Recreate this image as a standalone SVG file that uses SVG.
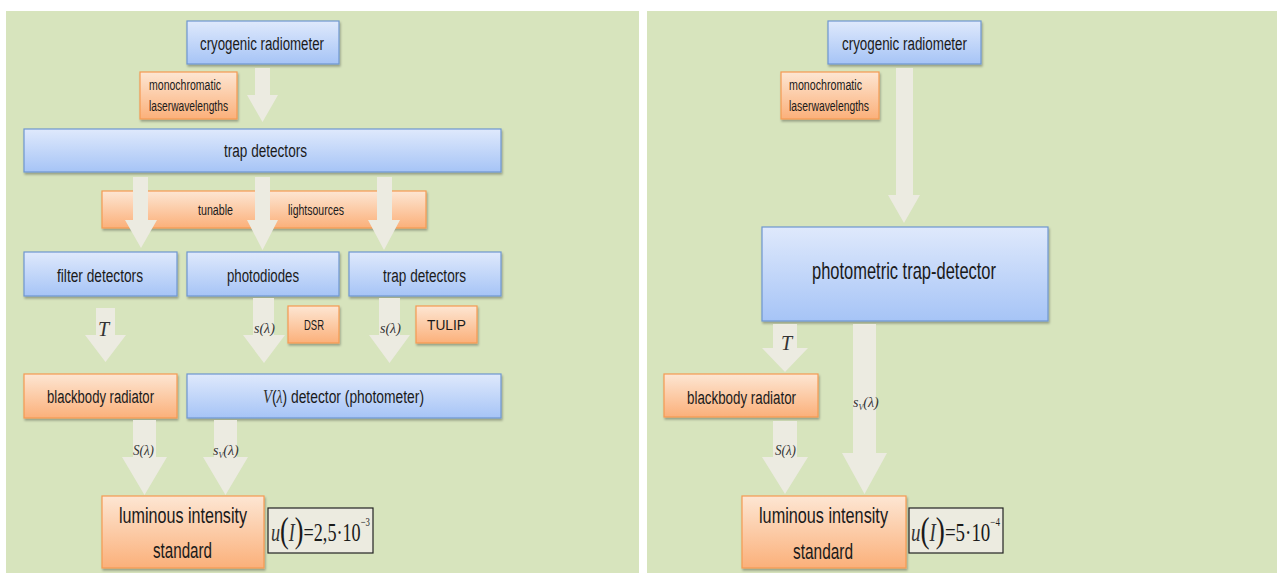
<svg xmlns="http://www.w3.org/2000/svg" width="1277" height="573" viewBox="0 0 1277 573">
<style>
.panel{fill:#d7e4bd}
.blue{fill:url(#gb);stroke:#6e97d0;stroke-width:1.2;filter:url(#sh)}
.orange{fill:url(#go);stroke:#f59a52;stroke-width:1.2;filter:url(#sh)}
.arrow{fill:#ecebe1}
.t{font-family:"Liberation Sans",Arial,sans-serif;fill:#1a1a1a}
.m{font-family:"Liberation Serif","Times New Roman",serif;font-style:italic;fill:#333}
.n{font-family:"Liberation Serif","Times New Roman",serif;fill:#1a1a1a}
.ubox{fill:#ecebe0;stroke:#222;stroke-width:1.2}
</style>
<defs>
<linearGradient id="gb" x1="0" y1="0" x2="0" y2="1"><stop offset="0" stop-color="#dfe9fc"/><stop offset="1" stop-color="#a6c4f6"/></linearGradient>
<linearGradient id="go" x1="0" y1="0" x2="0" y2="1"><stop offset="0" stop-color="#fde6d3"/><stop offset="1" stop-color="#fbb07a"/></linearGradient>
<filter id="sh" x="-10%" y="-10%" width="120%" height="130%"><feDropShadow dx="1" dy="2" stdDeviation="1" flood-color="#000" flood-opacity="0.3"/></filter>
</defs>
<rect width="1277" height="573" fill="#ffffff"/>
<rect class="panel" x="6" y="11" width="633" height="562"/>
<rect class="panel" x="647" y="11" width="630" height="562"/>

<!-- LEFT PANEL -->
<g id="L-cryo"><rect class="blue" x="187" y="21" width="152" height="43"/><text class="t" x="200" y="50" font-size="18" textLength="124" lengthAdjust="spacingAndGlyphs">cryogenic radiometer</text></g>
<g id="L-mono"><rect class="orange" x="140" y="72" width="97" height="47"/><text class="t" x="149" y="90" font-size="14" textLength="72" lengthAdjust="spacingAndGlyphs">monochromatic</text><text class="t" x="149" y="111" font-size="14" textLength="79" lengthAdjust="spacingAndGlyphs">laserwavelengths</text></g>
<g id="L-trap"><rect class="blue" x="24" y="129" width="477" height="43"/><text class="t" x="224" y="157" font-size="18" textLength="83" lengthAdjust="spacingAndGlyphs">trap detectors</text></g>
<g id="L-tunable"><rect class="orange" x="102" y="191" width="324" height="37"/><text class="t" x="198" y="215" font-size="14" textLength="35" lengthAdjust="spacingAndGlyphs">tunable</text><text class="t" x="288" y="215" font-size="14" textLength="56" lengthAdjust="spacingAndGlyphs">lightsources</text></g>
<g id="L-filter"><rect class="blue" x="24" y="252" width="153" height="44"/><text class="t" x="57" y="282" font-size="18" textLength="86" lengthAdjust="spacingAndGlyphs">filter detectors</text></g>
<g id="L-photodiodes"><rect class="blue" x="187" y="252" width="152" height="44"/><text class="t" x="227" y="282" font-size="18" textLength="72" lengthAdjust="spacingAndGlyphs">photodiodes</text></g>
<g id="L-trap2"><rect class="blue" x="349" y="252" width="152" height="44"/><text class="t" x="383" y="282" font-size="18" textLength="83" lengthAdjust="spacingAndGlyphs">trap detectors</text></g>
<g id="L-dsr"><rect class="orange" x="288" y="306" width="51" height="37"/><text class="t" x="304" y="330" font-size="14" textLength="20" lengthAdjust="spacingAndGlyphs">DSR</text></g>
<g id="L-tulip"><rect class="orange" x="416" y="306" width="61" height="37"/><text class="t" x="427" y="330" font-size="14" textLength="39" lengthAdjust="spacingAndGlyphs">TULIP</text></g>
<g id="L-blackbody"><rect class="orange" x="24" y="374" width="153" height="44"/><text class="t" x="47" y="403" font-size="18" textLength="107" lengthAdjust="spacingAndGlyphs">blackbody radiator</text></g>
<g id="L-vlambda"><rect class="blue" x="187" y="374" width="314" height="44"/><text class="t" x="263" y="403" font-size="18" textLength="161" lengthAdjust="spacingAndGlyphs"><tspan class="m" font-size="19" fill="#555">V</tspan>(<tspan class="m">λ</tspan>) detector (photometer)</text></g>
<g id="L-lum"><rect class="orange" x="102" y="496" width="162" height="72"/><text class="t" x="119" y="523" font-size="22" textLength="128" lengthAdjust="spacingAndGlyphs">luminous intensity</text><text class="t" x="153" y="558" font-size="22" textLength="59" lengthAdjust="spacingAndGlyphs">standard</text></g>
<g id="L-u"><rect class="ubox" x="268" y="508" width="105" height="45"/>
<text class="n" x="271" y="541" font-size="25" textLength="99" lengthAdjust="spacingAndGlyphs"><tspan class="m">u</tspan><tspan font-size="36" dy="1">(</tspan><tspan class="m" dy="-1">I</tspan><tspan font-size="36" dy="1">)</tspan><tspan dy="-1">=2,5·10</tspan><tspan font-size="12" dy="-15">−3</tspan></text></g>

<!-- RIGHT PANEL -->
<g id="R-cryo"><rect class="blue" x="828" y="21" width="153" height="43"/><text class="t" x="842" y="50" font-size="18" textLength="125" lengthAdjust="spacingAndGlyphs">cryogenic radiometer</text></g>
<g id="R-mono"><rect class="orange" x="781" y="72" width="98" height="47"/><text class="t" x="789" y="90" font-size="14" textLength="73" lengthAdjust="spacingAndGlyphs">monochromatic</text><text class="t" x="789" y="111" font-size="14" textLength="80" lengthAdjust="spacingAndGlyphs">laserwavelengths</text></g>
<g id="R-photometric"><rect class="blue" x="762" y="227" width="286" height="94"/><text class="t" x="812" y="279" font-size="24" textLength="184" lengthAdjust="spacingAndGlyphs">photometric trap-detector</text></g>
<g id="R-blackbody"><rect class="orange" x="664" y="374" width="154" height="43"/><text class="t" x="687" y="404" font-size="18" textLength="109" lengthAdjust="spacingAndGlyphs">blackbody radiator</text></g>
<g id="R-lum"><rect class="orange" x="742" y="496" width="164" height="72"/><text class="t" x="759" y="523" font-size="22" textLength="129" lengthAdjust="spacingAndGlyphs">luminous intensity</text><text class="t" x="793" y="559" font-size="22" textLength="60" lengthAdjust="spacingAndGlyphs">standard</text></g>
<g id="R-u"><rect class="ubox" x="909" y="508" width="94" height="45"/>
<text class="n" x="911" y="541" font-size="25" textLength="89" lengthAdjust="spacingAndGlyphs"><tspan class="m">u</tspan><tspan font-size="36" dy="1">(</tspan><tspan class="m" dy="-1">I</tspan><tspan font-size="36" dy="1">)</tspan><tspan dy="-1">=5·10</tspan><tspan font-size="12" dy="-15">−4</tspan></text></g>

<!-- CONNECTORS -->
<g id="connectors">
<polygon class="arrow" points="255,68 270,68 270,95 278,95 262.5,122 247,95 255,95"/>
<polygon class="arrow" points="133,177 148,177 148,220 157,220 141,248 125,220 133,220"/>
<polygon class="arrow" points="255,177 270,177 270,220 278,220 262.5,250 247,220 255,220"/>
<polygon class="arrow" points="377,177 392,177 392,220 400,220 384,250 368,220 377,220"/>
<polygon class="arrow" points="96,308 115,308 115,335 126,335 105.5,362 85,335 96,335"/>
<polygon class="arrow" points="253,298 274,298 274,335 285,335 264,363 243,335 253,335"/>
<polygon class="arrow" points="379,298 400,298 400,335 410,335 389.5,363 369,335 379,335"/>
<polygon class="arrow" points="133,420 156,420 156,457 167,457 144.5,495 122,457 133,457"/>
<polygon class="arrow" points="214,420 237,420 237,457 248,457 225.5,495 203,457 214,457"/>
<polygon class="arrow" points="896,68 913,68 913,195 920,195 904,223 888,195 896,195"/>
<polygon class="arrow" points="773,324 797,324 797,348 808,348 785,372 762,348 773,348"/>
<polygon class="arrow" points="853,324 876,324 876,453 887,453 864.5,494 842,453 853,453"/>
<polygon class="arrow" points="773,421 797,421 797,457 808,457 785,494 762,457 773,457"/>
<text class="m" x="98" y="336" font-size="20">T</text>
<text class="m" x="254" y="333" font-size="14">s(λ)</text>
<text class="m" x="380" y="333" font-size="14">s(λ)</text>
<text class="m" x="133" y="455" font-size="14" textLength="21" lengthAdjust="spacingAndGlyphs">S(λ)</text>
<text class="m" x="213" y="455" font-size="14">s<tspan font-size="8" dy="3">V</tspan><tspan dy="-3">(λ)</tspan></text>
<text class="m" x="781" y="350" font-size="20">T</text>
<text class="m" x="853" y="407" font-size="14">s<tspan font-size="8" dy="3">V</tspan><tspan dy="-3">(λ)</tspan></text>
<text class="m" x="775" y="455" font-size="14" textLength="21" lengthAdjust="spacingAndGlyphs">S(λ)</text>
</g>
</svg>
